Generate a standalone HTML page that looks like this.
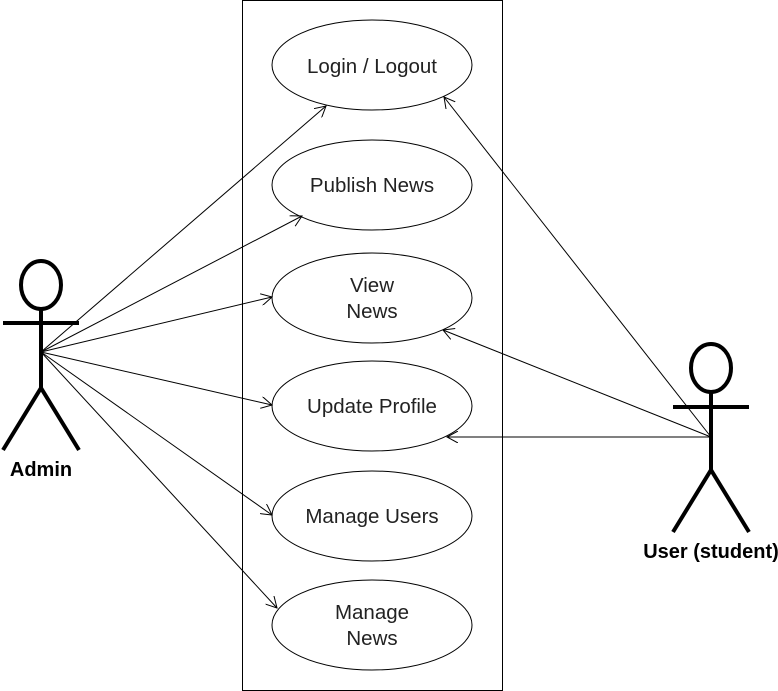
<!DOCTYPE html>
<html><head><style>body{margin:0;background:#fff}svg{display:block}</style></head><body>
<svg width="778" height="691" xmlns="http://www.w3.org/2000/svg" font-family="Liberation Sans, Arial, sans-serif">
<defs><marker id="a" markerWidth="12" markerHeight="12" refX="11" refY="6" orient="auto" markerUnits="userSpaceOnUse"><path d="M0,0 L11,6 L0,12" fill="none" stroke="#000" stroke-width="1"/></marker></defs>
<rect x="242.5" y="0.5" width="260" height="690" fill="#fff" stroke="#000"/>
<g fill="#fff" stroke="#000">
<ellipse cx="372" cy="65" rx="100" ry="45"/>
<ellipse cx="372" cy="185" rx="100" ry="45"/>
<ellipse cx="372" cy="298" rx="100" ry="45"/>
<ellipse cx="372" cy="406" rx="100" ry="45"/>
<ellipse cx="372" cy="516" rx="100" ry="45"/>
<ellipse cx="372" cy="625" rx="100" ry="45"/>
</g>
<g font-size="20.5" text-anchor="middle" fill="#222">
<text x="372" y="73">Login / Logout</text>
<text x="372" y="192">Publish News</text>
<text x="372" y="292">View</text><text x="372" y="318">News</text>
<text x="372" y="413">Update Profile</text>
<text x="372" y="523">Manage Users</text>
<text x="372" y="619">Manage</text><text x="372" y="645">News</text>
</g>
<g stroke="#000" stroke-width="1" marker-end="url(#a)">
<line x1="41" y1="352" x2="326" y2="106"/>
<line x1="41" y1="352" x2="302" y2="216"/>
<line x1="41" y1="352" x2="272" y2="297"/>
<line x1="41" y1="352" x2="272" y2="405"/>
<line x1="41" y1="352" x2="272" y2="515"/>
<line x1="41" y1="352" x2="277" y2="608"/>
<line x1="711" y1="437" x2="444" y2="97"/>
<line x1="711" y1="437" x2="443" y2="330"/>
<line x1="711" y1="437" x2="447" y2="437"/>
</g>
<g stroke="#000" stroke-width="4" fill="none">
<ellipse cx="41" cy="285" rx="20" ry="24"/>
<line x1="3" y1="323" x2="79" y2="323"/>
<line x1="41" y1="309" x2="41" y2="388"/>
<path d="M3,450 L41,388 L79,450"/>
<ellipse cx="711" cy="368" rx="20" ry="24"/>
<line x1="673" y1="407" x2="749" y2="407"/>
<line x1="711" y1="392" x2="711" y2="470"/>
<path d="M673,532 L711,470 L749,532"/>
</g>
<g font-size="20" font-weight="bold" text-anchor="middle">
<text x="41" y="476">Admin</text>
<text x="711" y="558">User (student)</text>
</g>
</svg>
</body></html>
